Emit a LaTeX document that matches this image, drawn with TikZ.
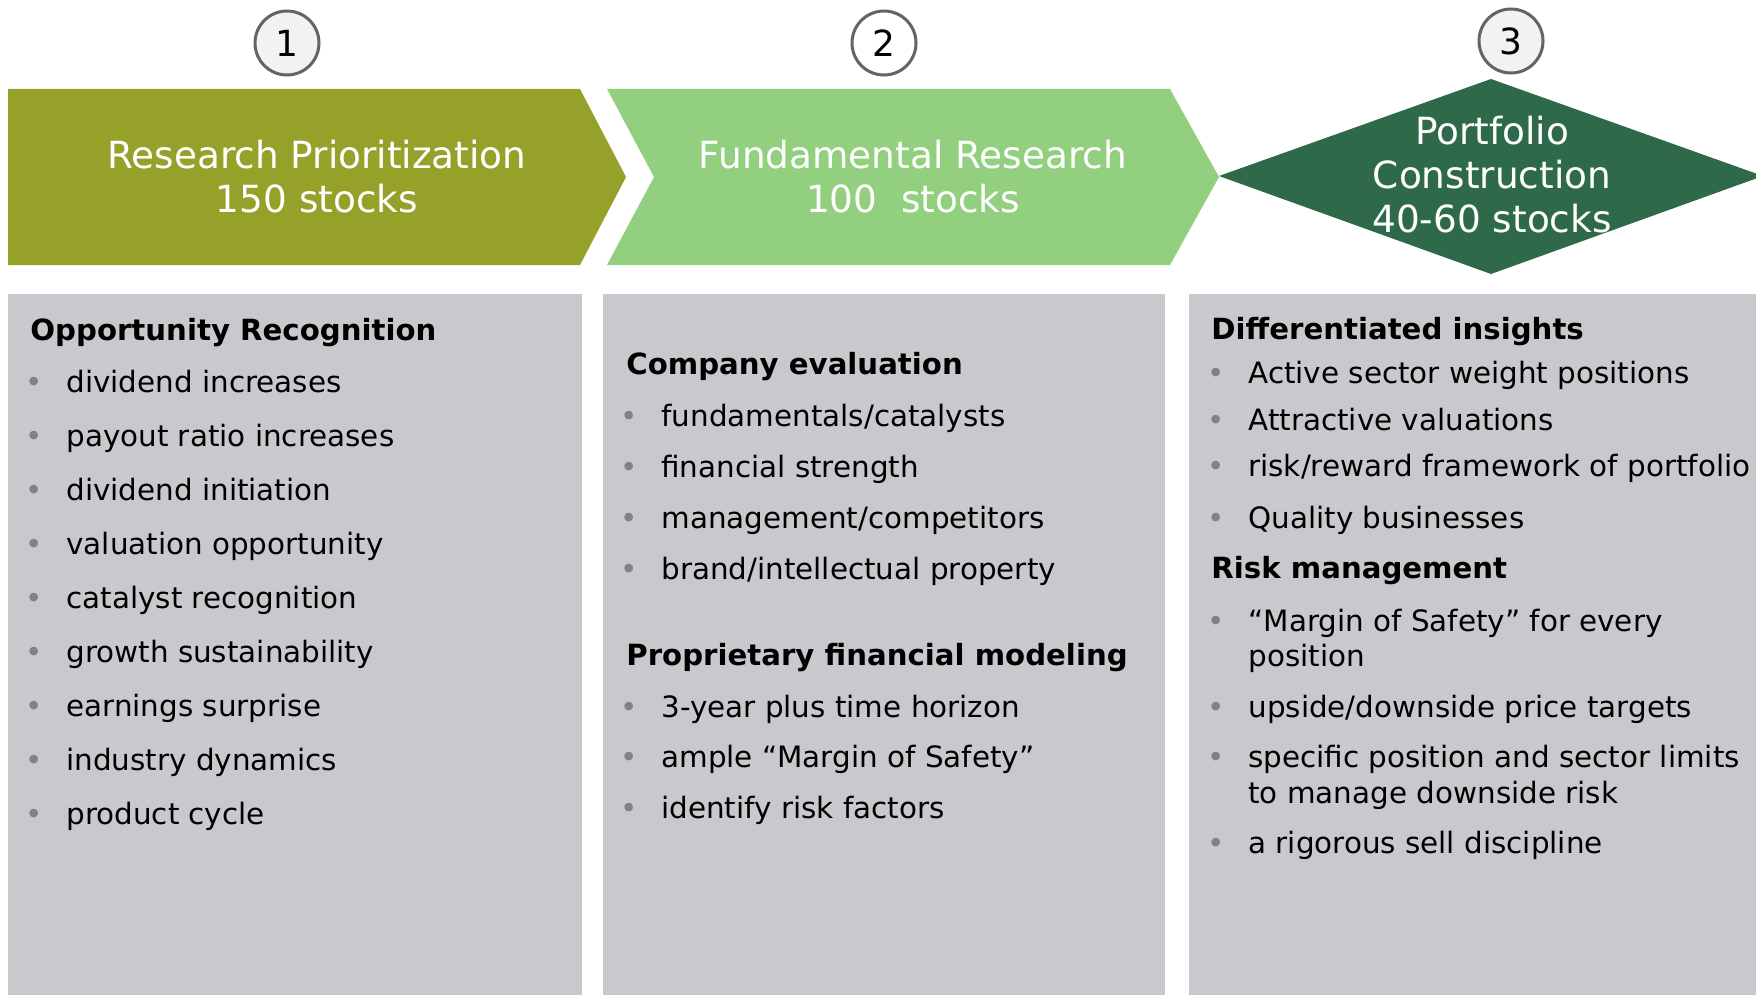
\documentclass[tikz,border=0pt]{standalone}
\usepackage{fontspec}
\setmainfont{DejaVu Sans}
\usepackage{xcolor}
\usepackage{tikz}

\definecolor{olivestep}{RGB}{150,161,42}
\definecolor{lightstep}{RGB}{146,208,127}
\definecolor{darkstep}{RGB}{46,105,73}
\definecolor{panelgray}{RGB}{200,201,204}
\definecolor{bulgray}{RGB}{128,130,136}
\definecolor{ringgray}{RGB}{100,100,100}
\newcommand{\bul}{\llap{\textcolor{bulgray}{•}\hspace{11.7pt}}}

\begin{document}
\begin{tikzpicture}[x=0.5pt,y=-0.5pt]
	\tikzstyle{number}=[circle,draw=ringgray,line width=1.5pt,fill=gray!10,minimum size=32pt,inner sep=0pt,font=\fontsize{18}{20}\selectfont]
	\tikzstyle{title}=[align=center,text=white,font=\fontsize{18.7}{22}\selectfont]
	\tikzstyle{head}=[anchor=base west,inner sep=0pt,font=\fontsize{14.6}{17}\selectfont\bfseries]
	\tikzstyle{item}=[anchor=base west,inner sep=0pt,font=\fontsize{14.7}{17.5}\selectfont]

	\useasboundingbox (0,0) rectangle (1756,995);
	\clip (0,0) rectangle (1756,995);

	\fill[olivestep] (8,89) -- (580,89) -- (626,177) -- (580,265) -- (8,265) -- cycle;
	\fill[lightstep] (607,89) -- (1170,89) -- (1219,177) -- (1170,265) -- (607,265) -- (654,177) -- cycle;
	\fill[darkstep] (1219,176) -- (1491,79) -- (1763,176) -- (1491,274) -- cycle;

	\fill[panelgray] (8,294) rectangle (582,995);
	\fill[panelgray] (603,294) rectangle (1165,995);
	\fill[panelgray] (1189,294) rectangle (1756,995);

	\node[title] (prio) at (317,177) {Research Prioritization\\150 stocks};
	\node[title] (fund) at (913,177) {Fundamental Research\\100~ stocks};
	\node[title] (port) at (1492,175) {Portfolio\\Construction\\40-60 stocks};

	\node[number] (n1) at (287,43) {1};
	\node[number,fill=white] (n2) at (884,43) {2};
	\node[number] (n3) at (1511,41) {3};

	\node[head] (opp) at (30,340) {Opportunity Recognition};
	\node[item] (o1) at (66,392) {\bul dividend increases};
	\node[item] (o2) at (66,446) {\bul payout ratio increases};
	\node[item] (o3) at (66,500) {\bul dividend initiation};
	\node[item] (o4) at (66,554) {\bul valuation opportunity};
	\node[item] (o5) at (66,608) {\bul catalyst recognition};
	\node[item] (o6) at (66,662) {\bul growth sustainability};
	\node[item] (o7) at (66,716) {\bul earnings surprise};
	\node[item] (o8) at (66,770) {\bul industry dynamics};
	\node[item] (o9) at (66,824) {\bul product cycle};

	\node[head] (comp) at (626,374) {Company evaluation};
	\node[item] (c1) at (661,426) {\bul fundamentals/catalysts};
	\node[item] (c2) at (661,477) {\bul financial strength};
	\node[item] (c3) at (661,528) {\bul management/competitors};
	\node[item] (c4) at (661,579) {\bul brand/intellectual property};
	\node[head] (model) at (626,665) {Proprietary financial modeling};
	\node[item] (m1) at (661,717) {\bul 3-year plus time horizon};
	\node[item] (m2) at (661,767) {\bul ample “Margin of Safety”};
	\node[item] (m3) at (661,818) {\bul identify risk factors};

	\node[head] (diff) at (1211,339) {Differentiated insights};
	\node[item] (d1) at (1248,383) {\bul Active sector weight positions};
	\node[item] (d2) at (1248,430) {\bul Attractive valuations};
	\node[item] (d3) at (1248,476) {\bul risk/reward framework of portfolio};
	\node[item] (d4) at (1248,528) {\bul Quality businesses};
	\node[head] (risk) at (1211,578) {Risk management};
	\node[item] (r1) at (1248,631) {\bul “Margin of Safety” for every};
	\node[item] (r1b) at (1248,666) {position};
	\node[item] (r2) at (1248,717) {\bul upside/downside price targets};
	\node[item] (r3) at (1248,767) {\bul specific position and sector limits};
	\node[item] (r3b) at (1248,803) {to manage downside risk};
	\node[item] (r4) at (1248,853) {\bul a rigorous sell discipline};
\end{tikzpicture}
\end{document}
